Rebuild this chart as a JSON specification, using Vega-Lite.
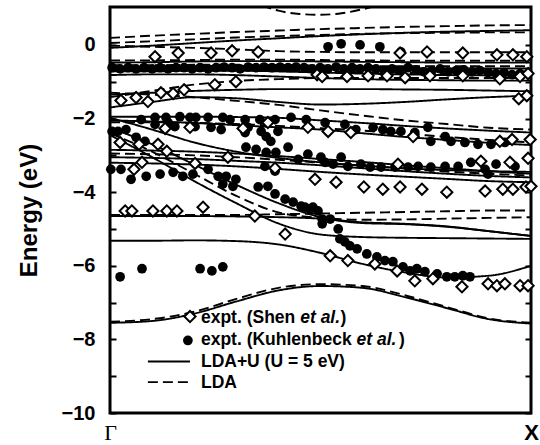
{
  "$schema": "https://vega.github.io/schema/vega-lite/v6.json",
  "width": 421,
  "height": 406,
  "autosize": "none",
  "padding": {"left": 110, "top": 7, "right": 9, "bottom": 32},
  "background": "white",
  "config": {
    "view": {"stroke": "black", "strokeWidth": 3},
    "font": "Liberation Sans",
    "axis": {"labelColor": "black", "tickColor": "black", "titleColor": "black", "grid": false, "domain": false}
  },
  "datasets": {
    "bands": [
      {"b":"U1","d":"s","k":0,"E":-0.08},{"b":"U1","d":"s","k":0.1,"E":-0.02},{"b":"U1","d":"s","k":0.2,"E":0.05},{"b":"U1","d":"s","k":0.3,"E":0.12},{"b":"U1","d":"s","k":0.4,"E":0.18},{"b":"U1","d":"s","k":0.5,"E":0.24},{"b":"U1","d":"s","k":0.6,"E":0.29},{"b":"U1","d":"s","k":0.7,"E":0.33},{"b":"U1","d":"s","k":0.8,"E":0.36},{"b":"U1","d":"s","k":0.9,"E":0.38},{"b":"U1","d":"s","k":1,"E":0.40},
      {"b":"U2","d":"s","k":0,"E":-0.48},{"b":"U2","d":"s","k":0.1,"E":-0.47},{"b":"U2","d":"s","k":0.2,"E":-0.45},{"b":"U2","d":"s","k":0.3,"E":-0.44},{"b":"U2","d":"s","k":0.4,"E":-0.44},{"b":"U2","d":"s","k":0.5,"E":-0.45},{"b":"U2","d":"s","k":0.6,"E":-0.46},{"b":"U2","d":"s","k":0.7,"E":-0.47},{"b":"U2","d":"s","k":0.8,"E":-0.48},{"b":"U2","d":"s","k":0.9,"E":-0.48},{"b":"U2","d":"s","k":1,"E":-0.48},
      {"b":"U3","d":"s","k":0,"E":-0.60},{"b":"U3","d":"s","k":0.1,"E":-0.60},{"b":"U3","d":"s","k":0.2,"E":-0.58},{"b":"U3","d":"s","k":0.3,"E":-0.57},{"b":"U3","d":"s","k":0.4,"E":-0.58},{"b":"U3","d":"s","k":0.5,"E":-0.60},{"b":"U3","d":"s","k":0.6,"E":-0.62},{"b":"U3","d":"s","k":0.7,"E":-0.63},{"b":"U3","d":"s","k":0.8,"E":-0.64},{"b":"U3","d":"s","k":0.9,"E":-0.64},{"b":"U3","d":"s","k":1,"E":-0.64},
      {"b":"U4","d":"s","k":0,"E":-0.72},{"b":"U4","d":"s","k":0.1,"E":-0.72},{"b":"U4","d":"s","k":0.2,"E":-0.70},{"b":"U4","d":"s","k":0.3,"E":-0.70},{"b":"U4","d":"s","k":0.4,"E":-0.72},{"b":"U4","d":"s","k":0.5,"E":-0.75},{"b":"U4","d":"s","k":0.6,"E":-0.78},{"b":"U4","d":"s","k":0.7,"E":-0.80},{"b":"U4","d":"s","k":0.8,"E":-0.82},{"b":"U4","d":"s","k":0.9,"E":-0.83},{"b":"U4","d":"s","k":1,"E":-0.84},
      {"b":"U5","d":"s","k":0,"E":-0.82},{"b":"U5","d":"s","k":0.1,"E":-0.80},{"b":"U5","d":"s","k":0.2,"E":-0.80},{"b":"U5","d":"s","k":0.3,"E":-0.82},{"b":"U5","d":"s","k":0.4,"E":-0.86},{"b":"U5","d":"s","k":0.5,"E":-0.90},{"b":"U5","d":"s","k":0.6,"E":-0.93},{"b":"U5","d":"s","k":0.7,"E":-0.95},{"b":"U5","d":"s","k":0.8,"E":-0.96},{"b":"U5","d":"s","k":0.9,"E":-0.97},{"b":"U5","d":"s","k":1,"E":-0.97},
      {"b":"U6","d":"s","k":0,"E":-1.70},{"b":"U6","d":"s","k":0.1,"E":-1.55},{"b":"U6","d":"s","k":0.2,"E":-1.42},{"b":"U6","d":"s","k":0.3,"E":-1.45},{"b":"U6","d":"s","k":0.4,"E":-1.55},{"b":"U6","d":"s","k":0.5,"E":-1.62},{"b":"U6","d":"s","k":0.6,"E":-1.60},{"b":"U6","d":"s","k":0.7,"E":-1.55},{"b":"U6","d":"s","k":0.8,"E":-1.48},{"b":"U6","d":"s","k":0.9,"E":-1.42},{"b":"U6","d":"s","k":1,"E":-1.38},
      {"b":"U7","d":"s","k":0,"E":-1.35},{"b":"U7","d":"s","k":0.1,"E":-1.30},{"b":"U7","d":"s","k":0.2,"E":-1.25},{"b":"U7","d":"s","k":0.3,"E":-1.22},{"b":"U7","d":"s","k":0.4,"E":-1.20},{"b":"U7","d":"s","k":0.5,"E":-1.20},{"b":"U7","d":"s","k":0.6,"E":-1.20},{"b":"U7","d":"s","k":0.7,"E":-1.21},{"b":"U7","d":"s","k":0.8,"E":-1.22},{"b":"U7","d":"s","k":0.9,"E":-1.24},{"b":"U7","d":"s","k":1,"E":-1.26},
      {"b":"U8","d":"s","k":0,"E":-1.95},{"b":"U8","d":"s","k":0.1,"E":-1.95},{"b":"U8","d":"s","k":0.2,"E":-1.95},{"b":"U8","d":"s","k":0.3,"E":-1.96},{"b":"U8","d":"s","k":0.4,"E":-1.98},{"b":"U8","d":"s","k":0.5,"E":-2.05},{"b":"U8","d":"s","k":0.6,"E":-2.12},{"b":"U8","d":"s","k":0.7,"E":-2.20},{"b":"U8","d":"s","k":0.8,"E":-2.27},{"b":"U8","d":"s","k":0.9,"E":-2.33},{"b":"U8","d":"s","k":1,"E":-2.38},
      {"b":"U9","d":"s","k":0,"E":-2.05},{"b":"U9","d":"s","k":0.1,"E":-2.08},{"b":"U9","d":"s","k":0.2,"E":-2.12},{"b":"U9","d":"s","k":0.3,"E":-2.18},{"b":"U9","d":"s","k":0.4,"E":-2.24},{"b":"U9","d":"s","k":0.5,"E":-2.30},{"b":"U9","d":"s","k":0.6,"E":-2.40},{"b":"U9","d":"s","k":0.7,"E":-2.50},{"b":"U9","d":"s","k":0.8,"E":-2.58},{"b":"U9","d":"s","k":0.9,"E":-2.66},{"b":"U9","d":"s","k":1,"E":-2.72},
      {"b":"U10","d":"s","k":0,"E":-1.98},{"b":"U10","d":"s","k":0.1,"E":-2.30},{"b":"U10","d":"s","k":0.2,"E":-2.65},{"b":"U10","d":"s","k":0.3,"E":-2.90},{"b":"U10","d":"s","k":0.4,"E":-3.07},{"b":"U10","d":"s","k":0.5,"E":-3.19},{"b":"U10","d":"s","k":0.6,"E":-3.28},{"b":"U10","d":"s","k":0.7,"E":-3.35},{"b":"U10","d":"s","k":0.8,"E":-3.40},{"b":"U10","d":"s","k":0.9,"E":-3.43},{"b":"U10","d":"s","k":1,"E":-3.45},
      {"b":"U11","d":"s","k":0,"E":-2.85},{"b":"U11","d":"s","k":0.1,"E":-2.87},{"b":"U11","d":"s","k":0.2,"E":-2.90},{"b":"U11","d":"s","k":0.3,"E":-2.95},{"b":"U11","d":"s","k":0.4,"E":-3.02},{"b":"U11","d":"s","k":0.5,"E":-3.10},{"b":"U11","d":"s","k":0.6,"E":-3.18},{"b":"U11","d":"s","k":0.7,"E":-3.27},{"b":"U11","d":"s","k":0.8,"E":-3.35},{"b":"U11","d":"s","k":0.9,"E":-3.43},{"b":"U11","d":"s","k":1,"E":-3.50},
      {"b":"U12","d":"s","k":0,"E":-3.05},{"b":"U12","d":"s","k":0.1,"E":-3.07},{"b":"U12","d":"s","k":0.2,"E":-3.10},{"b":"U12","d":"s","k":0.3,"E":-3.15},{"b":"U12","d":"s","k":0.4,"E":-3.20},{"b":"U12","d":"s","k":0.5,"E":-3.27},{"b":"U12","d":"s","k":0.6,"E":-3.35},{"b":"U12","d":"s","k":0.7,"E":-3.43},{"b":"U12","d":"s","k":0.8,"E":-3.50},{"b":"U12","d":"s","k":0.9,"E":-3.56},{"b":"U12","d":"s","k":1,"E":-3.60},
      {"b":"U13","d":"s","k":0,"E":-3.20},{"b":"U13","d":"s","k":0.1,"E":-3.22},{"b":"U13","d":"s","k":0.2,"E":-3.25},{"b":"U13","d":"s","k":0.3,"E":-3.30},{"b":"U13","d":"s","k":0.4,"E":-3.37},{"b":"U13","d":"s","k":0.5,"E":-3.45},{"b":"U13","d":"s","k":0.6,"E":-3.52},{"b":"U13","d":"s","k":0.7,"E":-3.58},{"b":"U13","d":"s","k":0.8,"E":-3.64},{"b":"U13","d":"s","k":0.9,"E":-3.70},{"b":"U13","d":"s","k":1,"E":-3.73},
      {"b":"U14","d":"s","k":0,"E":-2.25},{"b":"U14","d":"s","k":0.1,"E":-2.70},{"b":"U14","d":"s","k":0.2,"E":-3.25},{"b":"U14","d":"s","k":0.3,"E":-3.80},{"b":"U14","d":"s","k":0.4,"E":-4.30},{"b":"U14","d":"s","k":0.5,"E":-4.68},{"b":"U14","d":"s","k":0.6,"E":-4.84},{"b":"U14","d":"s","k":0.7,"E":-4.87},{"b":"U14","d":"s","k":0.8,"E":-4.94},{"b":"U14","d":"s","k":0.9,"E":-5.06},{"b":"U14","d":"s","k":1,"E":-5.19},
      {"b":"U15","d":"s","k":0,"E":-2.45},{"b":"U15","d":"s","k":0.1,"E":-3.05},{"b":"U15","d":"s","k":0.2,"E":-3.70},{"b":"U15","d":"s","k":0.3,"E":-4.30},{"b":"U15","d":"s","k":0.4,"E":-4.85},{"b":"U15","d":"s","k":0.5,"E":-5.15},{"b":"U15","d":"s","k":0.6,"E":-5.22},{"b":"U15","d":"s","k":0.7,"E":-5.24},{"b":"U15","d":"s","k":0.8,"E":-5.25},{"b":"U15","d":"s","k":0.9,"E":-5.26},{"b":"U15","d":"s","k":1,"E":-5.27},
      {"b":"U16","d":"s","k":0,"E":-5.32},{"b":"U16","d":"s","k":0.1,"E":-5.32},{"b":"U16","d":"s","k":0.2,"E":-5.31},{"b":"U16","d":"s","k":0.3,"E":-5.33},{"b":"U16","d":"s","k":0.4,"E":-5.42},{"b":"U16","d":"s","k":0.5,"E":-5.65},{"b":"U16","d":"s","k":0.6,"E":-5.95},{"b":"U16","d":"s","k":0.7,"E":-6.18},{"b":"U16","d":"s","k":0.8,"E":-6.32},{"b":"U16","d":"s","k":0.9,"E":-6.27},{"b":"U16","d":"s","k":1,"E":-6.00},
      {"b":"U17","d":"s","k":0,"E":-4.65},{"b":"U17","d":"s","k":0.1,"E":-4.65},{"b":"U17","d":"s","k":0.2,"E":-4.65},{"b":"U17","d":"s","k":0.3,"E":-4.66},{"b":"U17","d":"s","k":0.4,"E":-4.68},{"b":"U17","d":"s","k":0.5,"E":-4.72},{"b":"U17","d":"s","k":0.6,"E":-4.82},{"b":"U17","d":"s","k":0.7,"E":-4.86},{"b":"U17","d":"s","k":0.8,"E":-4.93},{"b":"U17","d":"s","k":0.9,"E":-5.06},{"b":"U17","d":"s","k":1,"E":-5.19},
      {"b":"U18","d":"s","k":0,"E":-7.55},{"b":"U18","d":"s","k":0.1,"E":-7.50},{"b":"U18","d":"s","k":0.2,"E":-7.30},{"b":"U18","d":"s","k":0.3,"E":-6.97},{"b":"U18","d":"s","k":0.4,"E":-6.67},{"b":"U18","d":"s","k":0.5,"E":-6.55},{"b":"U18","d":"s","k":0.6,"E":-6.60},{"b":"U18","d":"s","k":0.7,"E":-6.85},{"b":"U18","d":"s","k":0.8,"E":-7.15},{"b":"U18","d":"s","k":0.9,"E":-7.45},{"b":"U18","d":"s","k":1,"E":-7.57},
      {"b":"L0","d":"d","k":0.36,"E":1.08},{"b":"L0","d":"d","k":0.40,"E":0.93},{"b":"L0","d":"d","k":0.45,"E":0.84},{"b":"L0","d":"d","k":0.50,"E":0.82},{"b":"L0","d":"d","k":0.55,"E":0.86},{"b":"L0","d":"d","k":0.60,"E":0.97},{"b":"L0","d":"d","k":0.64,"E":1.08},
      {"b":"L1","d":"d","k":0,"E":0.19},{"b":"L1","d":"d","k":0.1,"E":0.25},{"b":"L1","d":"d","k":0.2,"E":0.30},{"b":"L1","d":"d","k":0.3,"E":0.35},{"b":"L1","d":"d","k":0.4,"E":0.39},{"b":"L1","d":"d","k":0.5,"E":0.43},{"b":"L1","d":"d","k":0.6,"E":0.46},{"b":"L1","d":"d","k":0.7,"E":0.49},{"b":"L1","d":"d","k":0.8,"E":0.51},{"b":"L1","d":"d","k":0.9,"E":0.53},{"b":"L1","d":"d","k":1,"E":0.54},
      {"b":"L2","d":"d","k":0,"E":0.05},{"b":"L2","d":"d","k":0.1,"E":0.10},{"b":"L2","d":"d","k":0.2,"E":0.15},{"b":"L2","d":"d","k":0.3,"E":0.20},{"b":"L2","d":"d","k":0.4,"E":0.24},{"b":"L2","d":"d","k":0.5,"E":0.27},{"b":"L2","d":"d","k":0.6,"E":0.30},{"b":"L2","d":"d","k":0.7,"E":0.32},{"b":"L2","d":"d","k":0.8,"E":0.33},{"b":"L2","d":"d","k":0.9,"E":0.34},{"b":"L2","d":"d","k":1,"E":0.34},
      {"b":"L3","d":"d","k":0,"E":-0.02},{"b":"L3","d":"d","k":0.1,"E":-0.05},{"b":"L3","d":"d","k":0.2,"E":-0.08},{"b":"L3","d":"d","k":0.3,"E":-0.12},{"b":"L3","d":"d","k":0.4,"E":-0.17},{"b":"L3","d":"d","k":0.5,"E":-0.19},{"b":"L3","d":"d","k":0.6,"E":-0.20},{"b":"L3","d":"d","k":0.7,"E":-0.20},{"b":"L3","d":"d","k":0.8,"E":-0.20},{"b":"L3","d":"d","k":0.9,"E":-0.20},{"b":"L3","d":"d","k":1,"E":-0.20},
      {"b":"L4","d":"d","k":0,"E":-0.42},{"b":"L4","d":"d","k":0.1,"E":-0.42},{"b":"L4","d":"d","k":0.2,"E":-0.41},{"b":"L4","d":"d","k":0.3,"E":-0.40},{"b":"L4","d":"d","k":0.4,"E":-0.40},{"b":"L4","d":"d","k":0.5,"E":-0.41},{"b":"L4","d":"d","k":0.6,"E":-0.42},{"b":"L4","d":"d","k":0.7,"E":-0.43},{"b":"L4","d":"d","k":0.8,"E":-0.43},{"b":"L4","d":"d","k":0.9,"E":-0.43},{"b":"L4","d":"d","k":1,"E":-0.43},
      {"b":"L5","d":"d","k":0,"E":-0.55},{"b":"L5","d":"d","k":0.1,"E":-0.55},{"b":"L5","d":"d","k":0.2,"E":-0.54},{"b":"L5","d":"d","k":0.3,"E":-0.54},{"b":"L5","d":"d","k":0.4,"E":-0.55},{"b":"L5","d":"d","k":0.5,"E":-0.56},{"b":"L5","d":"d","k":0.6,"E":-0.57},{"b":"L5","d":"d","k":0.7,"E":-0.58},{"b":"L5","d":"d","k":0.8,"E":-0.58},{"b":"L5","d":"d","k":0.9,"E":-0.58},{"b":"L5","d":"d","k":1,"E":-0.58},
      {"b":"L6","d":"d","k":0,"E":-0.68},{"b":"L6","d":"d","k":0.1,"E":-0.68},{"b":"L6","d":"d","k":0.2,"E":-0.67},{"b":"L6","d":"d","k":0.3,"E":-0.68},{"b":"L6","d":"d","k":0.4,"E":-0.70},{"b":"L6","d":"d","k":0.5,"E":-0.72},{"b":"L6","d":"d","k":0.6,"E":-0.74},{"b":"L6","d":"d","k":0.7,"E":-0.76},{"b":"L6","d":"d","k":0.8,"E":-0.77},{"b":"L6","d":"d","k":0.9,"E":-0.78},{"b":"L6","d":"d","k":1,"E":-0.78},
      {"b":"L7","d":"d","k":0,"E":-1.42},{"b":"L7","d":"d","k":0.1,"E":-1.25},{"b":"L7","d":"d","k":0.2,"E":-1.08},{"b":"L7","d":"d","k":0.3,"E":-0.98},{"b":"L7","d":"d","k":0.4,"E":-0.93},{"b":"L7","d":"d","k":0.5,"E":-0.90},{"b":"L7","d":"d","k":0.6,"E":-0.90},{"b":"L7","d":"d","k":0.7,"E":-0.90},{"b":"L7","d":"d","k":0.8,"E":-0.90},{"b":"L7","d":"d","k":0.9,"E":-0.90},{"b":"L7","d":"d","k":1,"E":-0.90},
      {"b":"L8","d":"d","k":0,"E":-1.30},{"b":"L8","d":"d","k":0.1,"E":-1.35},{"b":"L8","d":"d","k":0.2,"E":-1.42},{"b":"L8","d":"d","k":0.3,"E":-1.52},{"b":"L8","d":"d","k":0.4,"E":-1.63},{"b":"L8","d":"d","k":0.5,"E":-1.78},{"b":"L8","d":"d","k":0.6,"E":-1.92},{"b":"L8","d":"d","k":0.7,"E":-2.05},{"b":"L8","d":"d","k":0.8,"E":-2.15},{"b":"L8","d":"d","k":0.9,"E":-2.25},{"b":"L8","d":"d","k":1,"E":-2.30},
      {"b":"L9","d":"d","k":0,"E":-2.10},{"b":"L9","d":"d","k":0.1,"E":-2.10},{"b":"L9","d":"d","k":0.2,"E":-2.12},{"b":"L9","d":"d","k":0.3,"E":-2.15},{"b":"L9","d":"d","k":0.4,"E":-2.20},{"b":"L9","d":"d","k":0.5,"E":-2.26},{"b":"L9","d":"d","k":0.6,"E":-2.33},{"b":"L9","d":"d","k":0.7,"E":-2.41},{"b":"L9","d":"d","k":0.8,"E":-2.50},{"b":"L9","d":"d","k":0.9,"E":-2.58},{"b":"L9","d":"d","k":1,"E":-2.65},
      {"b":"L10","d":"d","k":0,"E":-2.95},{"b":"L10","d":"d","k":0.1,"E":-2.97},{"b":"L10","d":"d","k":0.2,"E":-3.00},{"b":"L10","d":"d","k":0.3,"E":-3.05},{"b":"L10","d":"d","k":0.4,"E":-3.12},{"b":"L10","d":"d","k":0.5,"E":-3.20},{"b":"L10","d":"d","k":0.6,"E":-3.28},{"b":"L10","d":"d","k":0.7,"E":-3.36},{"b":"L10","d":"d","k":0.8,"E":-3.44},{"b":"L10","d":"d","k":0.9,"E":-3.50},{"b":"L10","d":"d","k":1,"E":-3.55},
      {"b":"L11","d":"d","k":0,"E":-2.40},{"b":"L11","d":"d","k":0.1,"E":-2.90},{"b":"L11","d":"d","k":0.2,"E":-3.50},{"b":"L11","d":"d","k":0.3,"E":-4.10},{"b":"L11","d":"d","k":0.4,"E":-4.55},{"b":"L11","d":"d","k":0.5,"E":-4.70},{"b":"L11","d":"d","k":0.6,"E":-4.75},{"b":"L11","d":"d","k":0.7,"E":-4.74},{"b":"L11","d":"d","k":0.8,"E":-4.72},{"b":"L11","d":"d","k":0.9,"E":-4.70},{"b":"L11","d":"d","k":1,"E":-4.68},
      {"b":"L12","d":"d","k":0,"E":-4.62},{"b":"L12","d":"d","k":0.1,"E":-4.62},{"b":"L12","d":"d","k":0.2,"E":-4.62},{"b":"L12","d":"d","k":0.3,"E":-4.62},{"b":"L12","d":"d","k":0.4,"E":-4.60},{"b":"L12","d":"d","k":0.5,"E":-4.58},{"b":"L12","d":"d","k":0.6,"E":-4.56},{"b":"L12","d":"d","k":0.7,"E":-4.54},{"b":"L12","d":"d","k":0.8,"E":-4.52},{"b":"L12","d":"d","k":0.9,"E":-4.50},{"b":"L12","d":"d","k":1,"E":-4.50},
      {"b":"L13","d":"d","k":0,"E":-7.52},{"b":"L13","d":"d","k":0.1,"E":-7.45},{"b":"L13","d":"d","k":0.2,"E":-7.25},{"b":"L13","d":"d","k":0.3,"E":-6.90},{"b":"L13","d":"d","k":0.4,"E":-6.60},{"b":"L13","d":"d","k":0.5,"E":-6.50},{"b":"L13","d":"d","k":0.6,"E":-6.55},{"b":"L13","d":"d","k":0.7,"E":-6.80},{"b":"L13","d":"d","k":0.8,"E":-7.12},{"b":"L13","d":"d","k":0.9,"E":-7.43},{"b":"L13","d":"d","k":1,"E":-7.55}
    ],
    "shen": [
      {"k":0.107,"E":-0.32},{"k":0.162,"E":-0.22},{"k":0.240,"E":-0.22},{"k":0.290,"E":-0.16},{"k":0.352,"E":-0.19},{"k":0.689,"E":-0.22},{"k":0.753,"E":-0.19},{"k":0.838,"E":-0.22},{"k":0.919,"E":-0.27},{"k":0.957,"E":-0.27},{"k":0.990,"E":-0.32},
      {"k":0.249,"E":-1.08},{"k":0.299,"E":-1.00},{"k":0.492,"E":-0.81},{"k":0.504,"E":-0.86},{"k":0.563,"E":-0.86},{"k":0.613,"E":-0.84},{"k":0.658,"E":-0.84},{"k":0.701,"E":-0.89},{"k":0.760,"E":-0.84},{"k":0.838,"E":-0.84},{"k":0.926,"E":-0.92},{"k":0.974,"E":-0.86},{"k":0.993,"E":-0.78},
      {"k":0.026,"E":-1.51},{"k":0.062,"E":-1.43},{"k":0.090,"E":-1.54},{"k":0.121,"E":-1.30},{"k":0.150,"E":-1.32},{"k":0.176,"E":-1.22},{"k":0.971,"E":-1.46},{"k":0.990,"E":-1.38},
      {"k":0.131,"E":-2.27},{"k":0.190,"E":-2.24},{"k":0.316,"E":-2.27},{"k":0.375,"E":-2.11},{"k":0.470,"E":-2.24},{"k":0.518,"E":-2.35},{"k":0.572,"E":-2.38},{"k":0.720,"E":-2.49},{"k":0.926,"E":-2.62},{"k":0.955,"E":-2.57},{"k":0.998,"E":-2.57},
      {"k":0.024,"E":-2.65},{"k":0.069,"E":-2.70},{"k":0.114,"E":-2.70},{"k":0.135,"E":-2.89},{"k":0.076,"E":-3.19},{"k":0.057,"E":-3.38},{"k":0.202,"E":-3.22},{"k":0.280,"E":-3.05},{"k":0.392,"E":-3.35},{"k":0.487,"E":-3.65},
      {"k":0.684,"E":-3.24},{"k":0.881,"E":-3.16},{"k":0.950,"E":-3.19},{"k":0.993,"E":-3.08},
      {"k":0.537,"E":-3.73},{"k":0.603,"E":-3.86},{"k":0.648,"E":-3.92},{"k":0.689,"E":-3.86},{"k":0.741,"E":-3.92},{"k":0.800,"E":-4.00},{"k":0.891,"E":-3.97},{"k":0.933,"E":-3.92},{"k":0.957,"E":-3.92},{"k":0.988,"E":-3.86},{"k":1.0,"E":-3.84},
      {"k":0.036,"E":-4.51},{"k":0.052,"E":-4.51},{"k":0.102,"E":-4.51},{"k":0.135,"E":-4.51},{"k":0.159,"E":-4.51},{"k":0.221,"E":-4.41},{"k":0.344,"E":-4.65},{"k":0.416,"E":-5.14},
      {"k":0.523,"E":-5.73},{"k":0.565,"E":-5.86},{"k":0.629,"E":-5.95},{"k":0.682,"E":-6.14},{"k":0.724,"E":-6.41},{"k":0.767,"E":-6.35},{"k":0.836,"E":-6.57},{"k":0.898,"E":-6.49},{"k":0.919,"E":-6.54},{"k":0.938,"E":-6.49},{"k":0.974,"E":-6.54},{"k":0.993,"E":-6.54}
    ],
    "kuhl": [
      {"k":0.518,"E":-0.05},{"k":0.549,"E":0.03},{"k":0.594,"E":0.0},{"k":0.641,"E":-0.05},{"k":0.691,"E":-0.19},
      {"k":0.005,"E":-0.62},{"k":0.024,"E":-0.65},{"k":0.043,"E":-0.62},{"k":0.062,"E":-0.65},{"k":0.081,"E":-0.62},{"k":0.100,"E":-0.65},{"k":0.119,"E":-0.62},{"k":0.138,"E":-0.65},{"k":0.157,"E":-0.62},{"k":0.176,"E":-0.62},{"k":0.195,"E":-0.65},{"k":0.214,"E":-0.62},{"k":0.233,"E":-0.65},{"k":0.252,"E":-0.62},{"k":0.271,"E":-0.60},{"k":0.290,"E":-0.62},{"k":0.309,"E":-0.65},{"k":0.328,"E":-0.60},{"k":0.347,"E":-0.62},{"k":0.366,"E":-0.60},{"k":0.385,"E":-0.62},{"k":0.404,"E":-0.60},{"k":0.423,"E":-0.62},{"k":0.442,"E":-0.60},{"k":0.461,"E":-0.62},{"k":0.480,"E":-0.65},{"k":0.499,"E":-0.62},{"k":0.518,"E":-0.65},{"k":0.537,"E":-0.60},{"k":0.556,"E":-0.65},{"k":0.575,"E":-0.62},{"k":0.594,"E":-0.65},{"k":0.613,"E":-0.62},{"k":0.632,"E":-0.65},{"k":0.651,"E":-0.70},{"k":0.670,"E":-0.65},{"k":0.689,"E":-0.70},{"k":0.708,"E":-0.62},{"k":0.727,"E":-0.68},{"k":0.746,"E":-0.73},{"k":0.765,"E":-0.70},{"k":0.784,"E":-0.65},{"k":0.803,"E":-0.73},{"k":0.822,"E":-0.70},{"k":0.841,"E":-0.68},{"k":0.860,"E":-0.73},{"k":0.879,"E":-0.70},{"k":0.898,"E":-0.75},{"k":0.917,"E":-0.78},{"k":0.936,"E":-0.75},{"k":0.955,"E":-0.81},{"k":0.974,"E":-0.78},
      {"k":0.074,"E":-2.03},{"k":0.107,"E":-1.97},{"k":0.133,"E":-1.97},{"k":0.166,"E":-1.95},{"k":0.190,"E":-1.97},{"k":0.204,"E":-1.97},{"k":0.233,"E":-1.97},{"k":0.268,"E":-1.97},{"k":0.285,"E":-2.03},{"k":0.321,"E":-2.03},{"k":0.356,"E":-2.03},{"k":0.392,"E":-2.03},{"k":0.430,"E":-1.97},{"k":0.466,"E":-2.03},
      {"k":0.107,"E":-2.16},{"k":0.138,"E":-2.11},{"k":0.154,"E":-2.22},{"k":0.202,"E":-2.22},{"k":0.240,"E":-2.24},{"k":0.264,"E":-2.30},{"k":0.328,"E":-2.24},{"k":0.359,"E":-2.35},{"k":0.371,"E":-2.49},{"k":0.382,"E":-2.62},{"k":0.399,"E":-2.35},{"k":0.321,"E":-2.38},
      {"k":0.005,"E":-2.35},{"k":0.019,"E":-2.35},{"k":0.038,"E":-2.30},{"k":0.062,"E":-2.51},{"k":0.083,"E":-2.62},
      {"k":0.511,"E":-2.11},{"k":0.558,"E":-2.16},{"k":0.584,"E":-2.30},{"k":0.625,"E":-2.24},{"k":0.648,"E":-2.30},{"k":0.667,"E":-2.35},{"k":0.691,"E":-2.35},{"k":0.724,"E":-2.38},{"k":0.755,"E":-2.24},{"k":0.762,"E":-2.62},{"k":0.796,"E":-2.49},{"k":0.810,"E":-2.62},{"k":0.843,"E":-2.65},{"k":0.874,"E":-2.70},{"k":0.905,"E":-2.70},{"k":0.938,"E":-2.65},
      {"k":0.323,"E":-2.78},{"k":0.347,"E":-2.84},{"k":0.371,"E":-2.92},{"k":0.394,"E":-2.92},{"k":0.423,"E":-2.78},{"k":0.447,"E":-3.11},{"k":0.470,"E":-2.97},{"k":0.501,"E":-3.05},{"k":0.368,"E":-3.30},{"k":0.392,"E":-3.43},
      {"k":0.549,"E":-3.05},{"k":0.511,"E":-3.19},{"k":0.530,"E":-3.24},{"k":0.565,"E":-3.30},{"k":0.596,"E":-3.24},{"k":0.618,"E":-3.32},{"k":0.644,"E":-3.32},{"k":0.677,"E":-3.32},{"k":0.708,"E":-3.32},{"k":0.732,"E":-3.30},{"k":0.762,"E":-3.32},{"k":0.796,"E":-3.30},{"k":0.827,"E":-3.30},{"k":0.857,"E":-3.19},{"k":0.891,"E":-3.38},{"k":0.917,"E":-3.24},{"k":0.962,"E":-3.30},{"k":0.898,"E":-3.51},
      {"k":0.002,"E":-3.38},{"k":0.026,"E":-3.38},{"k":0.050,"E":-3.65},{"k":0.086,"E":-3.57},{"k":0.119,"E":-3.51},{"k":0.150,"E":-3.46},{"k":0.173,"E":-3.57},{"k":0.197,"E":-3.51},{"k":0.233,"E":-3.38},{"k":0.257,"E":-3.57},{"k":0.276,"E":-3.57},{"k":0.268,"E":-3.78},{"k":0.292,"E":-3.84},{"k":0.299,"E":-3.65},{"k":0.352,"E":-3.86},{"k":0.375,"E":-3.84},{"k":0.392,"E":-4.05},{"k":0.416,"E":-4.19},{"k":0.435,"E":-4.27},{"k":0.454,"E":-4.38},{"k":0.475,"E":-4.46},{"k":0.494,"E":-4.51},
      {"k":0.463,"E":-4.41},{"k":0.482,"E":-4.41},{"k":0.504,"E":-4.73},{"k":0.504,"E":-4.86},{"k":0.523,"E":-4.73},{"k":0.542,"E":-5.00},{"k":0.546,"E":-5.27},{"k":0.558,"E":-5.35},{"k":0.570,"E":-5.46},{"k":0.587,"E":-5.54},{"k":0.610,"E":-5.68},{"k":0.634,"E":-5.76},{"k":0.653,"E":-5.86},{"k":0.672,"E":-5.89},{"k":0.696,"E":-6.03},{"k":0.713,"E":-6.14},{"k":0.729,"E":-6.08},{"k":0.748,"E":-6.16},{"k":0.777,"E":-6.22},{"k":0.800,"E":-6.30},{"k":0.819,"E":-6.30},{"k":0.838,"E":-6.27},{"k":0.855,"E":-6.30},
      {"k":0.024,"E":-6.30},{"k":0.076,"E":-6.08},{"k":0.214,"E":-6.08},{"k":0.242,"E":-6.14},{"k":0.268,"E":-6.03}
    ],
    "legtext": [
      {"k":0.216,"E":-7.55,"t":"expt. (Shen","s":"n"},{"k":0.4518,"E":-7.55,"t":"et al.","s":"i"},{"k":0.5475,"E":-7.55,"t":")","s":"n"},
      {"k":0.216,"E":-8.15,"t":"expt. (Kuhlenbeck","s":"n"},{"k":0.5857,"E":-8.15,"t":"et al.","s":"i"},{"k":0.6862,"E":-8.15,"t":")","s":"n"},
      {"k":0.216,"E":-8.74,"t":"LDA+U (U = 5 eV)","s":"n"},{"k":0.216,"E":-9.33,"t":"LDA","s":"n"}
    ],
    "leglines": [
      {"g":"s","k":0.09,"E":-8.60},{"g":"s","k":0.19,"E":-8.60},
      {"g":"d","k":0.09,"E":-9.16},{"g":"d","k":0.19,"E":-9.16}
    ]
  },
  "resolve": {"axis": {"y": "independent"}},
  "layer": [
    {
      "data": {"name": "bands"},
      "mark": {"type": "line", "interpolate": "monotone", "clip": true, "color": "black", "strokeWidth": 1.9},
      "encoding": {
        "x": {"field": "k", "type": "quantitative", "scale": {"domain": [0, 1], "nice": false, "zero": false},
          "axis": {"values": [0, 1], "labelExpr": "datum.value == 0 ? 'Γ' : 'X'", "ticks": false, "labelFlush": false, "labelOverlap": false, "labelFontSize": 22,
            "labelFont": {"condition": {"test": "datum.value == 0", "value": "Liberation Serif"}, "value": "Liberation Sans"},
            "labelFontWeight": {"condition": {"test": "datum.value == 0", "value": "normal"}, "value": "bold"},
            "labelBaseline": "top", "labelPadding": 9, "title": null}},
        "y": {"field": "E", "type": "quantitative", "scale": {"domain": [-10, 1.03], "nice": false, "zero": false},
          "axis": {"values": [-10, -9, -8, -7, -6, -5, -4, -3, -2, -1, 0], "labelExpr": "datum.value % 2 == 0 ? datum.label : ''",
            "tickSize": -6, "tickWidth": 2, "labelFontSize": 20, "labelFontWeight": "bold", "labelPadding": 21, "labelOverlap": false,
            "title": "Energy (eV)", "titleFontSize": 24, "titleFontWeight": "bold", "titlePadding": 20}},
        "detail": {"field": "b"},
        "strokeDash": {"field": "d", "type": "nominal", "scale": {"domain": ["s", "d"], "range": [[1, 0], [10, 5]]}, "legend": null}
      }
    },
    {
      "data": {"name": "kuhl"},
      "mark": {"type": "point", "shape": "circle", "filled": true, "color": "black", "size": 95, "opacity": 1},
      "encoding": {
        "x": {"field": "k", "type": "quantitative"},
        "y": {"field": "E", "type": "quantitative",
          "axis": {"orient": "right", "values": [-10, -9, -8, -7, -6, -5, -4, -3, -2, -1, 0], "labels": false, "tickSize": -6, "tickWidth": 2, "title": null}}
      }
    },
    {
      "data": {"name": "shen"},
      "mark": {"type": "point", "shape": "diamond", "filled": true, "fill": "white", "stroke": "black", "strokeWidth": 2, "size": 125, "opacity": 1},
      "encoding": {
        "x": {"field": "k", "type": "quantitative"},
        "y": {"field": "E", "type": "quantitative", "axis": null}
      }
    },
    {
      "data": {"values": [{"k": 0.19, "E": -7.38}]},
      "mark": {"type": "point", "shape": "diamond", "filled": true, "fill": "white", "stroke": "black", "strokeWidth": 2, "size": 125, "opacity": 1},
      "encoding": {
        "x": {"field": "k", "type": "quantitative"},
        "y": {"field": "E", "type": "quantitative", "axis": null}
      }
    },
    {
      "data": {"values": [{"k": 0.185, "E": -8.03}]},
      "mark": {"type": "point", "shape": "circle", "filled": true, "color": "black", "size": 95, "opacity": 1},
      "encoding": {
        "x": {"field": "k", "type": "quantitative"},
        "y": {"field": "E", "type": "quantitative", "axis": null}
      }
    },
    {
      "data": {"name": "leglines"},
      "mark": {"type": "line", "color": "black", "strokeWidth": 1.9},
      "encoding": {
        "x": {"field": "k", "type": "quantitative"},
        "y": {"field": "E", "type": "quantitative", "axis": null},
        "detail": {"field": "g"},
        "strokeDash": {"field": "g", "type": "nominal", "scale": {"domain": ["s", "d"], "range": [[1, 0], [10, 5]]}, "legend": null}
      }
    },
    {
      "data": {"name": "legtext"},
      "transform": [{"filter": "datum.s == 'n'"}],
      "mark": {"type": "text", "align": "left", "baseline": "alphabetic", "font": "Liberation Sans", "fontWeight": "bold", "fontSize": 17.5, "color": "black"},
      "encoding": {
        "x": {"field": "k", "type": "quantitative"},
        "y": {"field": "E", "type": "quantitative", "axis": null},
        "text": {"field": "t"}
      }
    },
    {
      "data": {"name": "legtext"},
      "transform": [{"filter": "datum.s == 'i'"}],
      "mark": {"type": "text", "align": "left", "baseline": "alphabetic", "font": "Liberation Sans", "fontWeight": "bold", "fontStyle": "italic", "fontSize": 17.5, "color": "black"},
      "encoding": {
        "x": {"field": "k", "type": "quantitative"},
        "y": {"field": "E", "type": "quantitative", "axis": null},
        "text": {"field": "t"}
      }
    }
  ]
}
